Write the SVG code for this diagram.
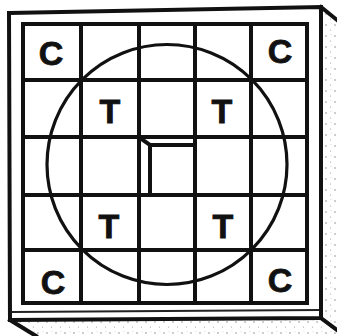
<svg xmlns="http://www.w3.org/2000/svg" width="337" height="336" viewBox="0 0 337 336">
<style>
.ln{stroke:#111;stroke-width:4;fill:none;stroke-linecap:square}
.thin{stroke:#222;stroke-width:2;fill:none}
.circ{stroke:#111;stroke-width:3.2;fill:none}
.lab{font-family:"Liberation Sans",Arial,sans-serif;font-weight:bold;font-size:34px;fill:#111;stroke:#111;stroke-width:0.8;text-anchor:middle}
</style>
<defs>
<pattern id="stip" width="9" height="11" patternUnits="userSpaceOnUse">
<rect width="9" height="11" fill="#fff"/>
<circle cx="2" cy="3" r="0.7" fill="#777"/>
<circle cx="6.5" cy="8" r="0.6" fill="#999"/>
<circle cx="7" cy="1.5" r="0.4" fill="#aaa"/>
</pattern>
</defs>
<rect width="337" height="336" fill="#fff"/>
<g id="frame">
<polygon points="321,7 337,20 337,336 321,318" fill="url(#stip)"/>
<polygon points="10,320 321,318 337,330 337,336 36,336" fill="url(#stip)"/>
<path class="ln" d="M9,13 L321,7 L321,318 L10,320 Z"/>
<path class="ln" d="M321,7 L337,20"/>
<path class="ln" d="M321,318 L337,330"/>
<path class="ln" d="M10,320 L36,336"/>
<path class="thin" d="M12,312 L319,310"/>
</g>
<g id="grid">
<rect class="ln" x="23" y="24" width="284" height="279"/>
<path class="ln" d="M81,24V303M139,24V303M195,24V303M251,24V303"/>
<path class="ln" d="M23,80H307M23,137H307M23,195H307M23,250H307"/>
</g>
<g id="center-hole">
<path class="ln" d="M150,195 V145 H193"/>
<path class="ln" d="M140,138 L150,145"/>
</g>
<g id="circle">
<circle class="circ" cx="167" cy="164.5" r="120"/>
</g>
<g id="labels">
<text class="lab" x="51" y="65">C</text>
<text class="lab" x="280" y="63">C</text>
<text class="lab" x="53" y="294">C</text>
<text class="lab" x="280" y="292">C</text>
<text class="lab" x="110" y="123">T</text>
<text class="lab" x="222" y="123">T</text>
<text class="lab" x="109" y="238">T</text>
<text class="lab" x="223" y="238">T</text>
</g>
</svg>
